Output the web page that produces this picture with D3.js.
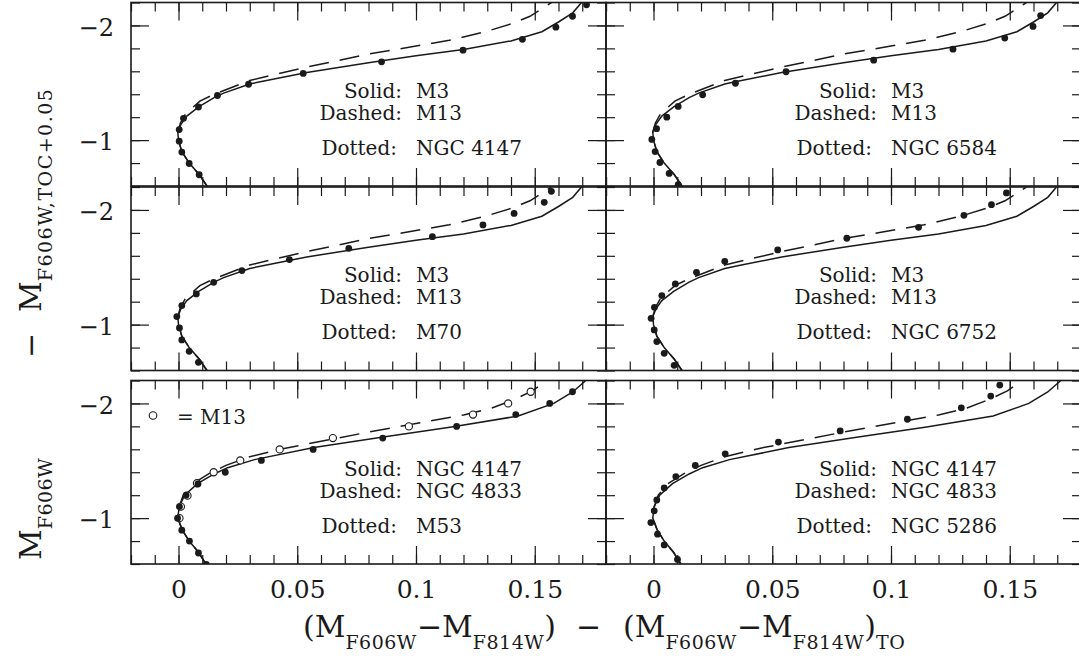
<!DOCTYPE html>
<html>
<head>
<meta charset="utf-8">
<script src="https://cdn.jsdelivr.net/npm/d3@7"></script>
<style>
  body { margin: 0; background: #fff; }
  svg { display: block; }
</style>
</head>
<body>
<script>
// fiducial sequences, [colour - colour_TO, mag offset]
const m3Solid = [
    [0.0120, -0.60], [0.0087, -0.70], [0.0045, -0.80], [0.0014, -0.90], [0.0000, -1.00],
    [-0.0003, -1.07], [0.0011, -1.14], [0.0035, -1.21], [0.0085, -1.29], [0.0150, -1.37],
    [0.0190, -1.41], [0.0300, -1.49], [0.0360, -1.515], [0.0540, -1.59], [0.0800, -1.675],
    [0.1000, -1.735], [0.1200, -1.79], [0.1400, -1.865], [0.1530, -1.945], [0.1600, -2.03],
    [0.1660, -2.11], [0.1697, -2.20]
]
const m13Dashed = [
    [0.0120, -0.60], [0.0087, -0.70], [0.0045, -0.80], [0.0014, -0.90], [0.0000, -1.00],
    [-0.0003, -1.07], [0.0008, -1.15], [0.0030, -1.23], [0.0090, -1.34], [0.0150, -1.40],
    [0.0300, -1.52], [0.0525, -1.63], [0.0800, -1.75], [0.1000, -1.82], [0.1140, -1.87],
    [0.1300, -1.95], [0.1410, -2.02], [0.1480, -2.08], [0.1555, -2.18], [0.1570, -2.20]
]
const ngc4147Solid = [
    [0.0115, -0.60], [0.0085, -0.70], [0.0045, -0.80], [0.0015, -0.90], [-0.0003, -1.00],
    [0.0003, -1.10], [0.0026, -1.20], [0.0080, -1.30], [0.0150, -1.385], [0.0207, -1.44],
    [0.0320, -1.51], [0.0570, -1.615], [0.0855, -1.705], [0.1150, -1.795], [0.1430, -1.89],
    [0.1580, -2.00], [0.1660, -2.10], [0.1715, -2.20]
]
const ngc4833Dashed = [
    [0.0115, -0.60], [0.0085, -0.70], [0.0045, -0.80], [0.0015, -0.90], [-0.0003, -1.00],
    [0.0003, -1.10], [0.0020, -1.20], [0.0060, -1.30], [0.0130, -1.39], [0.0200, -1.46],
    [0.0300, -1.535], [0.0450, -1.61], [0.0650, -1.69], [0.0800, -1.75], [0.1000, -1.825],
    [0.1200, -1.90], [0.1320, -1.96], [0.1420, -2.04], [0.1490, -2.11], [0.1550, -2.20]
]

// dotted clusters (filled points)
const ngc4147Dots = [
    [0.0087, -0.698], [0.0045, -0.796], [0.0014, -0.896], [0.0003, -0.991], [0.0003, -1.092],
    [0.0021, -1.190], [0.0084, -1.289], [0.0164, -1.389], [0.0295, -1.487], [0.0525, -1.582],
    [0.0855, -1.683], [0.1198, -1.784], [0.1448, -1.879], [0.1589, -1.985], [0.1659, -2.080],
    [0.1718, -2.180]
]
const ngc6584Dots = [
    [0.0104, -0.611], [0.0066, -0.710], [0.0027, -0.805], [0.0007, -0.900], [-0.0007, -1.006],
    [0.0013, -1.100], [0.0056, -1.200], [0.0104, -1.294], [0.0207, -1.395], [0.0345, -1.496],
    [0.0558, -1.596], [0.0927, -1.697], [0.1261, -1.793], [0.1479, -1.890], [0.1598, -1.991],
    [0.1630, -2.086]
]
const m70Dots = [
    [0.0084, -0.671], [0.0045, -0.767], [0.0014, -0.867], [0.0004, -0.971], [-0.0007, -1.070],
    [0.0014, -1.166], [0.0075, -1.268], [0.0148, -1.369], [0.0267, -1.471], [0.0467, -1.567],
    [0.0717, -1.665], [0.1069, -1.767], [0.1282, -1.869], [0.1413, -1.970], [0.1540, -2.066],
    [0.1570, -2.162]
]
const ngc6752Dots = [
    [0.0087, -0.645], [0.0045, -0.750], [0.0014, -0.852], [0.0003, -0.954], [-0.0010, -1.055],
    [0.0004, -1.151], [0.0035, -1.253], [0.0092, -1.355], [0.0181, -1.456], [0.0300, -1.552],
    [0.0523, -1.651], [0.0814, -1.753], [0.1116, -1.848], [0.1307, -1.953], [0.1423, -2.046],
    [0.1486, -2.148]
]
const m53Dots = [
    [0.0117, -0.596], [0.0084, -0.696], [0.0046, -0.800], [0.0014, -0.895], [-0.0004, -1.000],
    [0.0004, -1.100], [0.0032, -1.200], [0.0082, -1.298], [0.0197, -1.400], [0.0349, -1.503],
    [0.0567, -1.599], [0.0860, -1.698], [0.1171, -1.800], [0.1420, -1.903], [0.1563, -2.000],
    [0.1659, -2.102]
]
const ngc5286Dots = [
    [0.0101, -0.640], [0.0045, -0.766], [0.0017, -0.860], [-0.0011, -0.961], [0.0003, -1.064],
    [0.0014, -1.158], [0.0045, -1.263], [0.0094, -1.362], [0.0176, -1.459], [0.0302, -1.561],
    [0.0526, -1.663], [0.0786, -1.760], [0.1069, -1.862], [0.1296, -1.962], [0.1420, -2.064],
    [0.1458, -2.160]
]
// open circles, M13 over the M53 panel
const m13Open = [
    [0.0004, -1.000], [0.0010, -1.100], [0.0038, -1.196], [0.0078, -1.304], [0.0148, -1.400],
    [0.0260, -1.503], [0.0426, -1.599], [0.0650, -1.698], [0.0970, -1.800], [0.1240, -1.903],
    [0.1388, -2.000], [0.1483, -2.102]
]

const xMajorTicks = [0, 0.05, 0.1, 0.15]
const xTickLabels = ['0', '0.05', '0.1', '0.15']
const yMajorTicks = [-2, -1]
const yTickLabels = ['\u22122', '\u22121']

const solidNames = ['M3', 'M3', 'M3', 'M3', 'NGC 4147', 'NGC 4147']
const dashedNames = ['M13', 'M13', 'M13', 'M13', 'NGC 4833', 'NGC 4833']
const dottedNames = ['NGC 4147', 'NGC 6584', 'M70', 'NGC 6752', 'M53', 'NGC 5286']

const solidLines = [m3Solid, m3Solid, m3Solid, m3Solid, ngc4147Solid, ngc4147Solid]
const dashedLines = [m13Dashed, m13Dashed, m13Dashed, m13Dashed, ngc4833Dashed, ngc4833Dashed]
const dotSets = [ngc4147Dots, ngc6584Dots, m70Dots, ngc6752Dots, m53Dots, ngc5286Dots]

const W = 1079, H = 663
const colX = [131, 606]
const rowY = [2.5, 187, 380.5]
const panelW = 475, panelH = 183.5
const ink = '#1a1a1a'
const serif = 'DejaVu Serif, Liberation Serif, serif'

const svg = d3.select('body').append('svg')
    .attr('width', W)
    .attr('height', H)
    .style('font-family', serif)

let minorX = d3.range(-0.02, 0.1801, 0.01)
let minorY = d3.range(-2.2, -0.599, 0.2)

dottedNames.forEach((name, i) => {
    let row = Math.floor(i / 2), col = i % 2
    let x0 = colX[col], y0 = rowY[row]
    let x = d3.scaleLinear().domain([-0.02, 0.18]).range([x0, x0 + panelW])
    let y = d3.scaleLinear().domain([-2.2, -0.6]).range([y0, y0 + panelH])

    let g = svg.append('g')

    g.append('clipPath').attr('id', 'clip' + i)
        .append('rect')
        .attr('x', x0).attr('y', y0)
        .attr('width', panelW).attr('height', panelH)

    let plot = g.append('g').attr('clip-path', 'url(#clip' + i + ')')

    let line = d3.line()
        .x(d => x(d[0]))
        .y(d => y(d[1]))

    plot.append('path')
        .attr('d', line(solidLines[i]))
        .attr('fill', 'none')
        .attr('stroke', ink)
        .attr('stroke-width', 1.5)

    plot.append('path')
        .attr('d', line(dashedLines[i]))
        .attr('fill', 'none')
        .attr('stroke', ink)
        .attr('stroke-width', 1.5)
        .attr('stroke-dasharray', '20,11')

    if (i === 4) {
        plot.selectAll('circle.open')
            .data(m13Open)
            .enter().append('circle')
            .attr('class', 'open')
            .attr('cx', d => x(d[0]))
            .attr('cy', d => y(d[1]))
            .attr('r', 3.6)
            .attr('fill', '#fff')
            .attr('stroke', ink)
            .attr('stroke-width', 1.1)
    }

    plot.selectAll('circle.dot')
        .data(dotSets[i])
        .enter().append('circle')
        .attr('class', 'dot')
        .attr('cx', d => x(d[0]))
        .attr('cy', d => y(d[1]))
        .attr('r', 3.4)
        .attr('fill', ink)

    // ticks on all four sides, pointing inward
    let axes = [
        [d3.axisBottom(x), 'translate(0,' + (y0 + panelH) + ')', minorX, xMajorTicks],
        [d3.axisTop(x), 'translate(0,' + y0 + ')', minorX, xMajorTicks],
        [d3.axisLeft(y), 'translate(' + x0 + ',0)', minorY, yMajorTicks],
        [d3.axisRight(y), 'translate(' + (x0 + panelW) + ',0)', minorY, yMajorTicks]
    ]
    axes.forEach(a => {
        g.append('g').attr('transform', a[1])
            .call(a[0].tickValues(a[2]).tickSize(-9).tickFormat(''))
            .call(s => s.select('.domain').remove())
        g.append('g').attr('transform', a[1])
            .call(a[0].tickValues(a[3]).tickSize(-18).tickFormat(''))
            .call(s => s.select('.domain').remove())
    })

    // tick labels on outer panels
    if (row === 2) {
        g.append('g').attr('transform', 'translate(0,' + (y0 + panelH) + ')')
            .call(d3.axisBottom(x).tickValues(xMajorTicks).tickSize(0).tickPadding(16)
                .tickFormat((d, k) => xTickLabels[k]))
            .call(s => s.select('.domain').remove())
            .selectAll('text')
            .attr('font-family', serif)
            .attr('font-size', 25)
            .attr('fill', ink)
    }
    if (col === 0) {
        g.append('g').attr('transform', 'translate(' + x0 + ',0)')
            .call(d3.axisLeft(y).tickValues(yMajorTicks).tickSize(0).tickPadding(17)
                .tickFormat((d, k) => yTickLabels[k]))
            .call(s => s.select('.domain').remove())
            .selectAll('text')
            .attr('font-family', serif)
            .attr('font-size', 24)
            .attr('dy', '0.4em')
            .attr('fill', ink)
    }

    g.selectAll('.tick line').attr('stroke', ink).attr('stroke-width', 1.2)

    g.append('rect')
        .attr('x', x0).attr('y', y0)
        .attr('width', panelW).attr('height', panelH)
        .attr('fill', 'none')
        .attr('stroke', ink)
        .attr('stroke-width', 1.6)

    // legend text
    let legend = [['Solid:', solidNames[i], 95, 271], ['Dashed:', dashedNames[i], 117, 271], ['Dotted:', name, 152, 266]]
    legend.forEach(l => {
        g.append('text')
            .attr('x', x0 + l[3]).attr('y', y0 + l[2])
            .attr('text-anchor', 'end')
            .attr('font-size', 20)
            .attr('fill', ink)
            .text(l[0])
        g.append('text')
            .attr('x', x0 + 285).attr('y', y0 + l[2])
            .attr('font-size', 20)
            .attr('fill', ink)
            .text(l[1])
    })

    if (i === 4) {
        g.append('circle')
            .attr('cx', x0 + 22).attr('cy', y0 + 35)
            .attr('r', 3.8)
            .attr('fill', 'none')
            .attr('stroke', ink)
            .attr('stroke-width', 1.1)
        g.append('text')
            .attr('x', x0 + 46).attr('y', y0 + 43)
            .attr('font-size', 20)
            .attr('fill', ink)
            .text('=  M13')
    }
})

// axis titles with subscripts; parts are [text, subscript?, x position or null, letter spacing]
function label(el, parts, size, subSize, drop) {
    let shift = 0
    parts.forEach(p => {
        let want = p[1] ? drop : 0
        let t = el.append('tspan')
            .attr('dy', want - shift)
            .attr('font-size', p[1] ? subSize : size)
            .attr('letter-spacing', p[3] || 0)
            .text(p[0])
        if (p[2] !== null && p[2] !== undefined) t.attr('x', p[2])
        shift = want
    })
}

let xTitle = svg.append('text')
    .attr('x', 303).attr('y', 637)
    .attr('fill', ink)
label(xTitle, [
    ['(M', 0, 303], ['F606W', 1, null, 0.5], ['\u2212M', 0], ['F814W', 1, null, 0.5], [')', 0],
    ['\u2212', 0, 576],
    ['(M', 0, 623], ['F606W', 1, null, 0.5], ['\u2212M', 0], ['F814W', 1, null, 0.5], [')', 0], ['TO', 1, null, 0.5]
], 30, 19, 12)

// rotated: local x runs upward, so x = -screenY
let yTitle = svg.append('text')
    .attr('transform', 'translate(41,0) rotate(-90)')
    .attr('fill', ink)
label(yTitle, [
    ['M', 0, -560], ['F606W', 1, null, 0.5],
    ['\u2212', 0, -358],
    ['M', 0, -312], ['F606W,TOC+0.05', 1, null, 1.5]
], 30, 19, 11)
</script>
</body>
</html>
